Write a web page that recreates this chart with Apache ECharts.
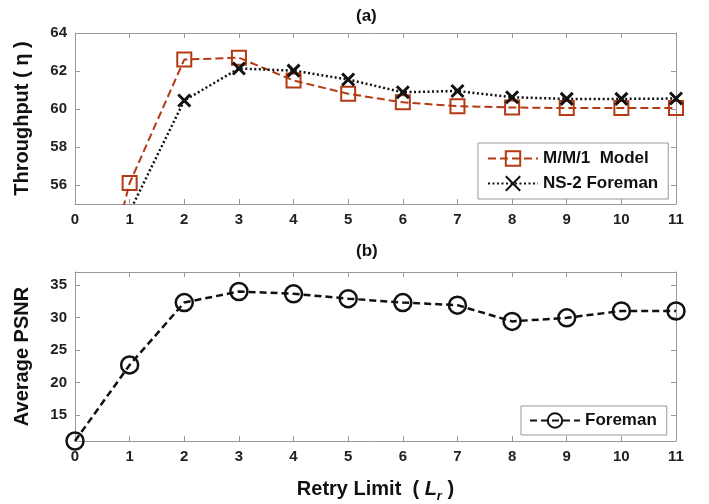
<!DOCTYPE html>
<html>
<head>
<meta charset="utf-8">
<script src="https://cdn.jsdelivr.net/npm/echarts@6/dist/echarts.min.js"></script>
<style>
  html, body { margin: 0; padding: 0; background: #fff; }
  #chart { width: 709px; height: 504px; }
</style>
</head>
<body>
<div id="chart"></div>
<script>
// retry limit values
const retryLimit = [0, 1, 2, 3, 4, 5, 6, 7, 8, 9, 10, 11]
// (a) throughput
const mm1Model = [45, 56.1, 62.6, 62.7, 61.5, 60.8, 60.35, 60.15, 60.08, 60.05, 60.05, 60.05]
const ns2Foreman = [null, 54.6, 60.45, 62.13, 62.02, 61.55, 60.88, 60.95, 60.62, 60.53, 60.53, 60.55]
// (b) psnr
const foremanPsnr = [11.0, 22.7, 32.3, 34.0, 33.65, 32.9, 32.3, 31.9, 29.4, 29.95, 31.0, 31.0]
const throughputTicks = [56, 58, 60, 62, 64]
const psnrTicks = [15, 20, 25, 30, 35]

const font = 'Liberation Sans, Arial, sans-serif'
const orange = '#b33a12'
const boxColor = '#999999'

const pairs = (ys) => retryLimit.map((x, i) => [x, ys[i]])

const chart = echarts.init(document.getElementById('chart'), null, { renderer: 'canvas' })

function xAxisFor (grid, pos, labels, name) {
  return {
    type: 'value',
    gridIndex: grid,
    position: pos,
    min: 0,
    max: 11,
    interval: 1,
    name: name || '',
    nameLocation: 'middle',
    nameGap: 34,
    nameTextStyle: {
      fontFamily: font, fontSize: 20, fontWeight: 'bold', color: '#111',
      rich: {
        i: { fontFamily: font, fontSize: 20, fontWeight: 'bold', fontStyle: 'italic', color: '#111' },
        sub: { fontFamily: font, fontSize: 13, fontWeight: 'bold', fontStyle: 'italic', color: '#111', padding: [15, 0, 0, 0] }
      }
    },
    axisLine: { show: true, onZero: false, lineStyle: { color: boxColor, width: 1 } },
    axisTick: { show: true, inside: true, length: 5, lineStyle: { color: boxColor } },
    axisLabel: {
      show: labels, margin: 8,
      fontFamily: font, fontSize: 15, fontWeight: 'bold', color: '#222'
    },
    splitLine: { show: false }
  }
}

function yAxisFor (grid, pos, min, max, ticks, labels, name) {
  return {
    type: 'value',
    gridIndex: grid,
    position: pos,
    min: min,
    max: max,
    name: name || '',
    nameLocation: 'middle',
    nameGap: 43,
    nameTextStyle: { fontFamily: font, fontSize: 20, fontWeight: 'bold', color: '#111' },
    axisLine: { show: true, onZero: false, lineStyle: { color: boxColor, width: 1 } },
    axisTick: { show: true, inside: true, length: 5, customValues: ticks, lineStyle: { color: boxColor } },
    axisLabel: {
      show: labels, margin: 8, customValues: ticks,
      fontFamily: font, fontSize: 15, fontWeight: 'bold', color: '#222'
    },
    splitLine: { show: false }
  }
}

const option = {
  animation: false,
  backgroundColor: '#fff',
  title: [
    { text: '(a)', left: 351, top: 3, textStyle: { fontFamily: font, fontSize: 17, fontWeight: 'bold', color: '#111' } },
    { text: '(b)', left: 351, top: 238, textStyle: { fontFamily: font, fontSize: 17, fontWeight: 'bold', color: '#111' } }
  ],
  grid: [
    { left: 75, right: 33, top: 33, height: 171 },
    { left: 75, right: 33, top: 272, height: 170 }
  ],
  xAxis: [
    xAxisFor(0, 'bottom', true),
    xAxisFor(0, 'top', false),
    xAxisFor(1, 'bottom', true, 'Retry Limit  ( {i|L}{sub|r} )'),
    xAxisFor(1, 'top', false)
  ],
  yAxis: [
    yAxisFor(0, 'left', 55, 64, throughputTicks, true, 'Throughput ( η )'),
    yAxisFor(0, 'right', 55, 64, throughputTicks, false),
    yAxisFor(1, 'left', 11, 37, psnrTicks, true, 'Average PSNR'),
    yAxisFor(1, 'right', 11, 37, psnrTicks, false)
  ],
  legend: [
    {
      orient: 'vertical',
      left: 478, top: 143,
      padding: [7, 10, 7, 9],
      itemWidth: 50, itemHeight: 18, itemGap: 8,
      borderColor: boxColor, borderWidth: 1,
      backgroundColor: '#fff',
      textStyle: { fontFamily: font, fontSize: 17, fontWeight: 'bold', color: '#111' },
      data: ['M/M/1  Model', 'NS-2 Foreman']
    },
    {
      orient: 'vertical',
      left: 521, top: 406,
      padding: [6, 10, 6, 8],
      itemWidth: 50, itemHeight: 18,
      borderColor: boxColor, borderWidth: 1,
      backgroundColor: '#fff',
      textStyle: { fontFamily: font, fontSize: 17, fontWeight: 'bold', color: '#111' },
      data: ['Foreman']
    }
  ],
  series: [
    {
      name: 'M/M/1  Model',
      type: 'line',
      xAxisIndex: 0, yAxisIndex: 0,
      data: pairs(mm1Model),
      clip: true,
      symbol: 'rect',
      symbolSize: 14,
      itemStyle: { color: 'rgba(255,255,255,0)', borderColor: orange, borderWidth: 2 },
      lineStyle: { color: orange, width: 2, type: [8, 4] }
    },
    {
      name: 'NS-2 Foreman',
      type: 'line',
      xAxisIndex: 0, yAxisIndex: 0,
      data: pairs(ns2Foreman),
      clip: true,
      symbol: 'path://M0,0L10,10M10,0L0,10',
      symbolSize: 12,
      itemStyle: { color: 'rgba(0,0,0,0)', borderColor: '#111', borderWidth: 3 },
      lineStyle: { color: '#111', width: 2.5, type: [2, 2.5] }
    },
    {
      name: 'Foreman',
      type: 'line',
      xAxisIndex: 2, yAxisIndex: 2,
      data: pairs(foremanPsnr),
      clip: false,
      symbol: 'circle',
      symbolSize: 17,
      itemStyle: { color: 'rgba(255,255,255,0)', borderColor: '#111', borderWidth: 2.5 },
      lineStyle: { color: '#111', width: 2.5, type: [7, 4] }
    }
  ]
}

chart.setOption(option)
</script>
</body>
</html>
